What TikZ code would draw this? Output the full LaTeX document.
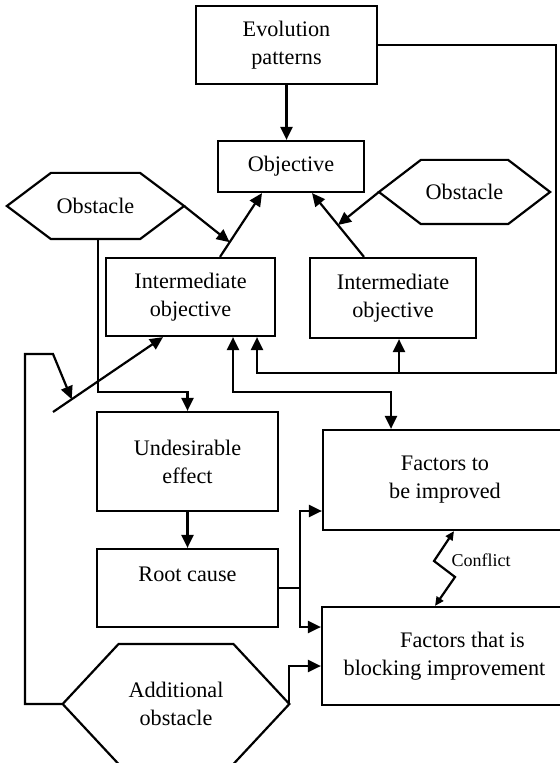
\documentclass[tikz,border=0pt]{standalone}
\usepackage{fontspec}
\setmainfont{Liberation Serif}
\usetikzlibrary{arrows.meta,calc}
\newcommand{\boxfont}{\fontsize{11.1pt}{14pt}\selectfont}
\newcommand{\smallfont}{\fontsize{9pt}{10pt}\selectfont}
% outline of a hexagon round a named node: name, inset of the points
\newcommand{\hexa}[2]{%
  \draw (#1.west) -- ([xshift=#2]#1.north west) -- ([xshift=-#2]#1.north east)
    -- (#1.east) -- ([xshift=-#2]#1.south east) -- ([xshift=#2]#1.south west) -- cycle;}

\begin{document}
\begin{tikzpicture}[x=0.5pt,y=-0.5pt,line width=1.1pt,
	>={Triangle[length=6.5pt,width=6pt]},
	box/.style={draw,align=center,font=\boxfont,inner sep=2pt},
	hexnode/.style={align=center,font=\boxfont,inner sep=0pt},
	small/.style={{Triangle[length=4.5pt,width=4pt]}-{Triangle[length=4.5pt,width=4pt]}}]
	\useasboundingbox (0,0) rectangle (560,763);
	
	%BOXES
	\node[box,minimum width=90.5pt,minimum height=39pt] (evo) at (286.5,45) {Evolution\\patterns};
	\node[box,minimum width=73pt,minimum height=25.5pt] (obj) at (291,166.5) {Objective};
	\node[box,minimum width=84.5pt,minimum height=39pt] (imL) at (190.5,297) {Intermediate\\objective};
	\node[box,minimum width=83pt,minimum height=40pt] (imR) at (393,298) {Intermediate\\objective};
	\node[box,minimum width=90.5pt,minimum height=49.5pt] (und) at (187.5,461.5) {Undesirable\\effect};
	\node[box,minimum width=90.5pt,minimum height=39pt] (root) at (187.5,588) {Root cause\\\mbox{}};
	\node[box,minimum width=122pt,minimum height=50pt] (fim) at (445,480) {Factors to\\be improved};
	\node[box,minimum width=122.5pt,minimum height=49pt] (blk) at (444.5,656) {\hspace*{18pt}Factors that is\\blocking improvement};
	
	%OBSTACLES
	\node[hexnode,minimum width=87.5pt,minimum height=32pt] (obsL) at (95.5,206) {Obstacle};
	\hexa{obsL}{22pt}
	\node[hexnode,minimum width=84.5pt,minimum height=31pt] (obsR) at (464.5,192) {Obstacle};
	\hexa{obsR}{21pt}
	\node[hexnode,minimum width=112.25pt,minimum height=59pt] (addl) at (176,704) {Additional\\obstacle};
	\hexa{addl}{28pt}
	
	%TOP ARCS
	\draw[->] (evo.south) -- (evo.south |- obj.north);
	\draw[->] (220,0 |- imL.north) -- (262,0 |- obj.south);
	\draw[->] (364,0 |- imR.north) -- (312,0 |- obj.south);
	\coordinate (m1) at ($(220,0 |- imL.north)!0.23!(262,0 |- obj.south)$);
	\coordinate (m2) at ($(364,0 |- imR.north)!0.5!(312,0 |- obj.south)$);
	\draw[->] (obsL.east) -- (m1);
	\draw[->] (obsR.west) -- (m2);
	
	%FEEDBACK
	\coordinate (rc) at (556,373);
	\draw[->] (evo.east) -| (rc) -| (257,0 |- imL.south);
	\draw[->] (399,0 |- rc) -- (399,0 |- imR.south);
	\draw[<->] (233,0 |- imL.south) |- (391,392) -- (391,0 |- fim.north);
	
	%LEFT ARCS
	\draw[->] (98,0 |- obsL.south) |- (und.north |- 0,392) -- (und.north);
	\draw[->] (und.south) -- (root.north);
	\coordinate (d0) at (53,412);
	\draw[->] (d0) -- (163,0 |- imL.south);
	\coordinate (d1) at ($(d0)!0.17!(163,0 |- imL.south)$);
	\draw[->] (addl.west) -- (25,0 |- addl.west) |- (53,354) -- (d1);
	
	%RIGHT ARCS
	\draw[->] (root.east) -- (300,0 |- root.east) |- (fim.west |- 0,511);
	\draw[->] (300,0 |- root.east) |- (blk.west |- 0,627);
	\draw[->] (addl.east) |- (blk.west |- 0,666);
	
	%CONFLICT
	\draw[small] (454,0 |- fim.south) -- (434,561) -- (455,577) -- (435,0 |- blk.north);
	\node[font=\smallfont] (cfl) at (481,560) {Conflict};
\end{tikzpicture}
\end{document}
